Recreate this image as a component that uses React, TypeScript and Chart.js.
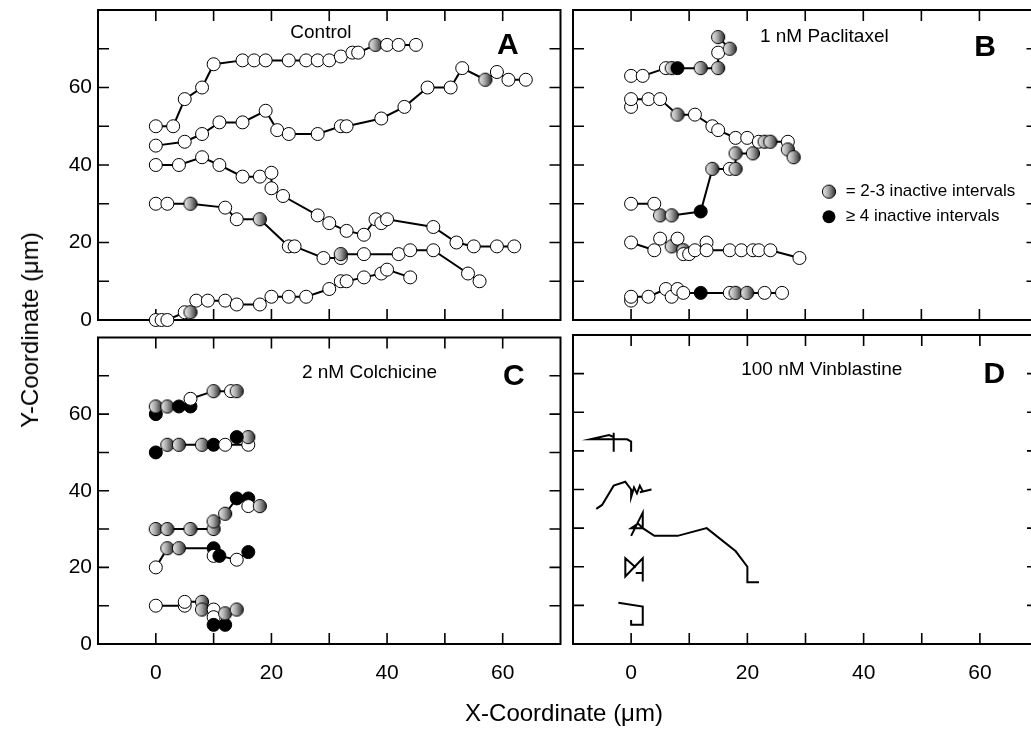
import React, { useEffect, useRef } from 'react';
import { Chart, registerables } from 'chart.js';

Chart.register(...registerables);

// [x, y, state] state: 0 = active (white), 1 = 2-3 inactive intervals (gray), 2 = >=4 inactive intervals (black)
type Pt = number[];

const xTickValues = [0, 10, 20, 30, 40, 50, 60];
const yTickValues = [10, 20, 30, 40, 50, 60, 70];
const xLabelValues = [0, 20, 40, 60];
const yLabelValues = [0, 20, 40, 60];

const controlTrack1: Pt[] = [[0,50,0],[3,50,0],[5,57,0],[8,60,0],[10,66,0],[15,67,0],[17,67,0],[19,67,0],[23,67,0],[26,67,0],[28,67,0],[30,67,0],[32,68,0],[34,69,0],[35,69,0],[38,71,1],[40,71,0],[42,71,0],[45,71,0]];
const controlTrack2: Pt[] = [[0,45,0],[5,46,0],[8,48,0],[11,51,0],[15,51,0],[19,54,0],[21,49,0],[23,48,0],[28,48,0],[32,50,0],[33,50,0],[39,52,0],[43,55,0],[47,60,0],[51,60,0],[53,65,0],[57,62,1],[59,64,0],[61,62,0],[64,62,0]];
const controlTrack3: Pt[] = [[0,40,0],[4,40,0],[8,42,0],[11,40,0],[15,37,0],[18,37,0],[20,38,0],[20,34,0],[22,32,0],[28,27,0],[30,25,0],[33,23,0],[36,22,0],[38,26,0],[39,25,0],[40,26,0],[48,24,0],[52,20,0],[55,19,0],[59,19,0],[62,19,0]];
const controlTrack4: Pt[] = [[0,30,0],[2,30,0],[6,30,1],[12,29,0],[14,26,0],[18,26,1],[23,19,0],[24,19,0],[29,16,0],[32,16,0],[32,17,1],[36,17,0],[42,17,0],[44,18,0],[48,18,0],[54,12,0],[56,10,0]];
const controlTrack5: Pt[] = [[0,0,0],[1,0,0],[2,0,0],[5,2,0],[6,2,1],[7,5,0],[9,5,0],[12,5,0],[14,4,0],[18,4,0],[20,6,0],[23,6,0],[26,6,0],[30,8,0],[32,10,0],[33,10,0],[36,11,0],[39,12,0],[40,13,0],[44,11,0]];

const paclitaxelTrack1: Pt[] = [[0,63,0],[2,63,0],[6,65,0],[7,65,1],[8,65,2],[12,65,1],[15,65,1],[15,69,0],[17,70,1],[15,73,1]];
const paclitaxelTrack2: Pt[] = [[0,55,0],[0,57,0],[3,57,0],[5,57,0],[8,53,1],[11,53,0],[14,50,0],[15,49,0],[18,47,0],[20,47,0],[22,46,0],[23,46,1],[24,46,1],[27,46,0],[27,44,1],[28,42,1]];
const paclitaxelTrack3: Pt[] = [[0,30,0],[4,30,0],[5,27,1],[7,27,1],[12,28,2],[14,39,1],[17,39,0],[18,39,1],[18,43,1],[21,43,1]];
const paclitaxelTrack4: Pt[] = [[0,20,0],[4,18,0],[5,21,0],[7,19,1],[8,21,0],[9,18,1],[9,17,0],[10,17,0],[11,18,0],[13,20,0],[13,18,0],[17,18,0],[19,18,0],[21,18,0],[22,18,0],[24,18,0],[29,16,0]];
const paclitaxelTrack5: Pt[] = [[0,5,0],[0,6,0],[3,6,0],[6,8,0],[7,6,0],[8,8,0],[9,7,0],[12,7,2],[17,7,0],[18,7,1],[20,7,1],[23,7,0],[26,7,0]];

const colchicineTrack1: Pt[] = [[0,60,2],[0,62,1],[2,62,1],[4,62,2],[6,62,2],[6,64,0],[10,66,1],[13,66,0],[14,66,1]];
const colchicineTrack2: Pt[] = [[0,50,2],[2,52,1],[4,52,1],[8,52,1],[10,52,2],[12,52,0],[16,52,0],[16,54,1],[14,54,2]];
const colchicineTrack3: Pt[] = [[0,30,1],[2,30,1],[6,30,1],[10,30,1],[10,32,1],[12,34,1],[14,38,2],[16,38,2],[16,36,0],[18,36,1]];
const colchicineTrack4: Pt[] = [[0,20,0],[2,25,1],[4,25,1],[10,25,2],[10,23,0],[11,23,2],[14,22,0],[16,24,2]];
const colchicineTrack5: Pt[] = [[0,10,0],[5,10,0],[5,11,0],[8,11,1],[8,9,1],[10,9,0],[10,7,0],[10,5,2],[12,5,2],[12,8,1],[14,9,1]];

const vinblastineTrack1: Pt[] = [[0,49.8],[0,52.4],[-0.7,53],[-7,53],[-3.8,54.1],[-3,53.6],[-3,54.7],[-3,49.8]];
const vinblastineTrack2: Pt[] = [[-6,35],[-5,36],[-3,41],[-1,42],[0,40],[0,38],[0.5,40.5],[1,39],[1.5,41],[2,39.5],[3.5,40],[1.5,39.3]];
const vinblastineTrack3: Pt[] = [[0,28],[2,34],[2,30],[0,30],[1.2,31.2],[2,30],[4,28],[8,28],[13,30],[18,24],[20,20],[20,16],[22,16]];
const vinblastineTrack4: Pt[] = [[0.8,19.8],[-1,22.2],[-1,17.5],[2,22.2],[2,18.4],[0.8,18.4],[2,18.4],[2,16.2]];
const vinblastineTrack5: Pt[] = [[-2.2,10.7],[2,9.7],[2,5],[0,5],[0,6.2]];

const FONT = "'Liberation Sans', Arial, Helvetica, sans-serif";
const TICK = 11;

let grayBall: HTMLCanvasElement | null = null;
function getGrayBall(): HTMLCanvasElement {
  if (grayBall) return grayBall;
  const c = document.createElement('canvas');
  c.width = 16;
  c.height = 16;
  const g = c.getContext('2d')!;
  const grad = g.createLinearGradient(1, 0, 15, 0);
  grad.addColorStop(0, '#f2f2f2');
  grad.addColorStop(0.45, '#a8a8a8');
  grad.addColorStop(1, '#262626');
  g.beginPath();
  g.arc(8, 8, 6.6, 0, Math.PI * 2);
  g.fillStyle = grad;
  g.fill();
  g.lineWidth = 1;
  g.strokeStyle = '#000';
  g.stroke();
  grayBall = c;
  return c;
}

const panelPlugin = {
  id: 'panelDecor',
  beforeDatasetsDraw(chart: any, _a: any, opts: any) {
    const { ctx, chartArea: a, scales } = chart;
    ctx.save();
    ctx.strokeStyle = '#000';
    ctx.lineWidth = 2;
    ctx.strokeRect(a.left, a.top, a.right - a.left, a.bottom - a.top);
    ctx.lineWidth = 1.6;
    ctx.beginPath();
    for (const v of xTickValues) {
      const px = scales.x.getPixelForValue(v);
      ctx.moveTo(px, a.top);
      ctx.lineTo(px, a.top + TICK);
      ctx.moveTo(px, a.bottom);
      ctx.lineTo(px, a.bottom - TICK);
    }
    for (const v of yTickValues) {
      const py = scales.y.getPixelForValue(v);
      ctx.moveTo(a.left, py);
      ctx.lineTo(a.left + TICK, py);
      ctx.moveTo(a.right, py);
      ctx.lineTo(a.right - TICK, py);
    }
    ctx.stroke();
    ctx.restore();
  },
  afterDatasetsDraw(chart: any, _a: any, opts: any) {
    const { ctx, chartArea: a } = chart;
    const w = a.right - a.left;
    const h = a.bottom - a.top;
    ctx.save();
    ctx.fillStyle = '#000';
    ctx.textAlign = 'center';
    ctx.textBaseline = 'middle';
    ctx.font = `19px ${FONT}`;
    ctx.fillText(opts.title, a.left + opts.titleX * w, a.top + opts.titleY * h);
    ctx.font = `bold 30px ${FONT}`;
    ctx.fillText(opts.letter, a.left + opts.letterX * w, a.top + opts.letterY * h);
    if (opts.legend) {
      const cx = a.left + 0.551 * w;
      const y1 = a.top + 0.586 * h;
      const y2 = a.top + 0.667 * h;
      const tx = a.left + 0.587 * w;
      const img = getGrayBall();
      ctx.drawImage(img, cx - img.width / 2, y1 - img.height / 2);
      ctx.beginPath();
      ctx.arc(cx, y2, 6.5, 0, Math.PI * 2);
      ctx.fillStyle = '#000';
      ctx.fill();
      ctx.font = `17px ${FONT}`;
      ctx.textAlign = 'left';
      ctx.fillText('= 2-3 inactive intervals', tx, y1);
      ctx.fillText('\u2265 4 inactive intervals', tx, y2);
    }
    ctx.restore();
  },
};

type PanelSpec = {
  tracks: Pt[][];
  markers: boolean;
  showX: boolean;
  showY: boolean;
  padding: { left: number; top: number; right: number; bottom: number };
  title: string;
  titleX: number;
  titleY: number;
  letter: string;
  letterX: number;
  letterY: number;
  legend: boolean;
};

function zeroPad(s: any) {
  s.paddingLeft = 0;
  s.paddingRight = 0;
  s.paddingTop = 0;
  s.paddingBottom = 0;
}

function buildChart(canvas: HTMLCanvasElement, spec: PanelSpec) {
  const stateOf = (c: any) => (c && c.raw && typeof c.raw.s === 'number' ? c.raw.s : 0);
  return new Chart(canvas, {
    type: 'scatter',
    data: {
      datasets: spec.tracks.map((t) => ({
        data: t.map((p) => ({ x: p[0], y: p[1], s: p.length > 2 ? p[2] : 0 })),
        showLine: true,
        borderColor: '#000',
        borderWidth: 2,
        tension: 0,
        clip: false as any,
        pointRadius: spec.markers ? 6.5 : 0,
        pointHoverRadius: spec.markers ? 6.5 : 0,
        pointBorderColor: '#000',
        pointBorderWidth: 1,
        pointStyle: (c: any) => (stateOf(c) === 1 ? getGrayBall() : 'circle'),
        pointBackgroundColor: (c: any) => (stateOf(c) === 2 ? '#000' : '#fff'),
      })) as any,
    },
    options: {
      responsive: false,
      maintainAspectRatio: false,
      animation: false,
      events: [],
      layout: { padding: spec.padding },
      plugins: {
        legend: { display: false },
        tooltip: { enabled: false },
        panelDecor: {
          title: spec.title,
          titleX: spec.titleX,
          titleY: spec.titleY,
          letter: spec.letter,
          letterX: spec.letterX,
          letterY: spec.letterY,
          legend: spec.legend,
        },
      } as any,
      scales: {
        x: {
          type: 'linear',
          min: -10,
          max: 70,
          display: spec.showX,
          grid: { display: false, drawTicks: false },
          border: { display: false },
          ticks: {
            stepSize: 10,
            autoSkip: false,
            maxRotation: 0,
            padding: 17,
            color: '#000',
            font: { family: FONT, size: 21 },
            callback: (v: any) => (xLabelValues.includes(Number(v)) ? String(v) : ''),
          },
          afterFit: (s: any) => {
            if (spec.showX) s.height = 87;
            zeroPad(s);
          },
        },
        y: {
          type: 'linear',
          min: 0,
          max: 80,
          display: spec.showY,
          grid: { display: false, drawTicks: false },
          border: { display: false },
          ticks: {
            stepSize: 10,
            autoSkip: false,
            padding: 6,
            color: '#000',
            font: { family: FONT, size: 21 },
            callback: (v: any) => (yLabelValues.includes(Number(v)) ? String(v) : ''),
          },
          afterFit: (s: any) => {
            if (spec.showY) s.width = 98;
            zeroPad(s);
          },
        },
      },
    } as any,
    plugins: [panelPlugin as any],
  });
}

const specs: PanelSpec[] = [
  {
    tracks: [controlTrack1, controlTrack2, controlTrack3, controlTrack4, controlTrack5],
    markers: true, showX: false, showY: true,
    padding: { left: 0, top: 10, right: 5, bottom: 10 },
    title: 'Control', titleX: 0.482, titleY: 0.074,
    letter: 'A', letterX: 0.886, letterY: 0.116, legend: false,
  },
  {
    tracks: [paclitaxelTrack1, paclitaxelTrack2, paclitaxelTrack3, paclitaxelTrack4, paclitaxelTrack5],
    markers: true, showX: false, showY: false,
    padding: { left: 8, top: 10, right: 7, bottom: 10 },
    title: '1 nM Paclitaxel', titleX: 0.541, titleY: 0.087,
    letter: 'B', letterX: 0.887, letterY: 0.121, legend: true,
  },
  {
    tracks: [colchicineTrack1, colchicineTrack2, colchicineTrack3, colchicineTrack4, colchicineTrack5],
    markers: true, showX: true, showY: true,
    padding: { left: 0, top: 5, right: 5, bottom: 0 },
    title: '2 nM Colchicine', titleX: 0.587, titleY: 0.116,
    letter: 'C', letterX: 0.899, letterY: 0.129, legend: false,
  },
  {
    tracks: [vinblastineTrack1, vinblastineTrack2, vinblastineTrack3, vinblastineTrack4, vinblastineTrack5],
    markers: false, showX: true, showY: false,
    padding: { left: 8, top: 5, right: 7, bottom: 0 },
    title: '100 nM Vinblastine', titleX: 0.535, titleY: 0.111,
    letter: 'D', letterX: 0.906, letterY: 0.129, legend: false,
  },
];

const boxes = [
  { left: 0, top: 0, width: 568, height: 330 },
  { left: 565, top: 0, width: 480, height: 330 },
  { left: 0, top: 330, width: 568, height: 401 },
  { left: 565, top: 330, width: 480, height: 401 },
];

export default function App() {
  const r0 = useRef<HTMLCanvasElement>(null);
  const r1 = useRef<HTMLCanvasElement>(null);
  const r2 = useRef<HTMLCanvasElement>(null);
  const r3 = useRef<HTMLCanvasElement>(null);
  const refs = [r0, r1, r2, r3];

  useEffect(() => {
    const charts = refs.map((r, i) => buildChart(r.current as HTMLCanvasElement, specs[i]));
    return () => charts.forEach((c) => c.destroy());
  }, []);

  return (
    <div
      style={{
        position: 'absolute',
        left: 0,
        top: 0,
        width: 1031,
        height: 731,
        overflow: 'hidden',
        background: '#fff',
        fontFamily: FONT,
        color: '#000',
      }}
    >
      {boxes.map((b, i) => (
        <canvas
          key={i}
          ref={refs[i]}
          width={b.width}
          height={b.height}
          style={{ position: 'absolute', left: b.left, top: b.top, width: b.width, height: b.height }}
        />
      ))}
      <div
        style={{
          position: 'absolute',
          left: 414,
          top: 700,
          width: 300,
          textAlign: 'center',
          fontSize: 24,
          lineHeight: '26px',
          whiteSpace: 'nowrap',
        }}
      >
        X-Coordinate (μm)
      </div>
      <div
        style={{
          position: 'absolute',
          left: 30,
          top: 330,
          transform: 'translate(-50%, -50%) rotate(-90deg)',
          fontSize: 24,
          lineHeight: '26px',
          whiteSpace: 'nowrap',
        }}
      >
        Y-Coordinate (μm)
      </div>
    </div>
  );
}
